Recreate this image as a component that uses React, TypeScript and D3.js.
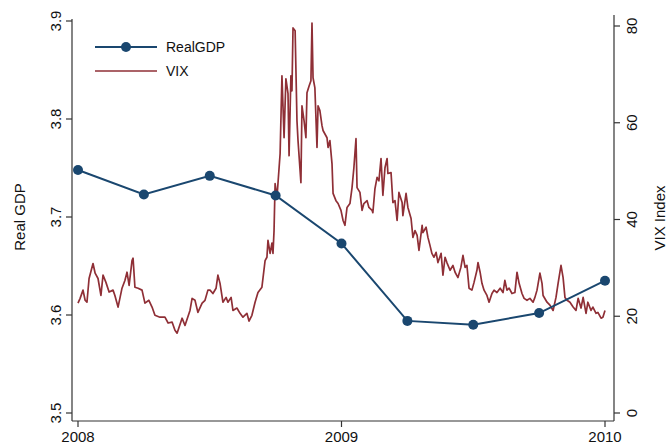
import React from "react";
import * as d3 from "d3";

// Quarterly real GDP (decimal year, value)
const gdpTime = [2008.0, 2008.25, 2008.5, 2008.75, 2009.0, 2009.25, 2009.5, 2009.75, 2010.0];
const gdpValues = [3.748, 3.723, 3.742, 3.722, 3.673, 3.594, 3.59, 3.602, 3.635];

// VIX readings (decimal year, index level)
const vixTime = [
  2008.0, 2008.008, 2008.019, 2008.027, 2008.034, 2008.042, 2008.057, 2008.065, 2008.076, 2008.087,
  2008.095, 2008.106, 2008.118, 2008.133, 2008.14, 2008.152, 2008.167, 2008.178, 2008.186, 2008.194,
  2008.205, 2008.209, 2008.216, 2008.228, 2008.243, 2008.254, 2008.269, 2008.281, 2008.292, 2008.311,
  2008.33, 2008.342, 2008.357, 2008.368, 2008.376, 2008.395, 2008.406, 2008.425, 2008.433, 2008.444,
  2008.455, 2008.471, 2008.482, 2008.493, 2008.501, 2008.512, 2008.524, 2008.531, 2008.539, 2008.55,
  2008.562, 2008.569, 2008.581, 2008.588, 2008.603, 2008.615, 2008.626, 2008.641, 2008.649, 2008.66,
  2008.672, 2008.683, 2008.698, 2008.71, 2008.717, 2008.721, 2008.729, 2008.736, 2008.74, 2008.744,
  2008.748, 2008.755, 2008.767, 2008.774, 2008.782, 2008.789, 2008.797, 2008.801, 2008.808, 2008.812,
  2008.816, 2008.824, 2008.831, 2008.835, 2008.846, 2008.85, 2008.858, 2008.865, 2008.869, 2008.877,
  2008.884, 2008.888, 2008.892, 2008.899, 2008.907, 2008.911, 2008.918, 2008.926, 2008.93, 2008.945,
  2008.949, 2008.956, 2008.964, 2008.968, 2008.979, 2008.987, 2008.998, 2009.006, 2009.013, 2009.021,
  2009.032, 2009.04, 2009.047, 2009.055, 2009.059, 2009.07, 2009.078, 2009.085, 2009.097, 2009.104,
  2009.116, 2009.119, 2009.127, 2009.135, 2009.142, 2009.15, 2009.157, 2009.165, 2009.173, 2009.176,
  2009.188, 2009.195, 2009.203, 2009.211, 2009.218, 2009.23, 2009.233, 2009.245, 2009.252, 2009.264,
  2009.271, 2009.279, 2009.287, 2009.294, 2009.306, 2009.309, 2009.321, 2009.328, 2009.336, 2009.343,
  2009.351, 2009.359, 2009.366, 2009.378, 2009.385, 2009.393, 2009.4, 2009.412, 2009.423, 2009.431,
  2009.442, 2009.453, 2009.461, 2009.469, 2009.476, 2009.484, 2009.495, 2009.503, 2009.514, 2009.518,
  2009.526, 2009.533, 2009.541, 2009.552, 2009.56, 2009.571, 2009.579, 2009.59, 2009.602, 2009.613,
  2009.62, 2009.628, 2009.636, 2009.647, 2009.658, 2009.666, 2009.674, 2009.685, 2009.693, 2009.704,
  2009.715, 2009.727, 2009.734, 2009.742, 2009.753, 2009.761, 2009.765, 2009.78, 2009.791, 2009.803,
  2009.814, 2009.822, 2009.833, 2009.841, 2009.848, 2009.856, 2009.867, 2009.879, 2009.89, 2009.898,
  2009.909, 2009.917, 2009.928, 2009.935, 2009.947, 2009.954, 2009.966, 2009.973, 2009.985, 2009.992,
  2010.0,
];
const vixValues = [
  22.7, 23.7, 25.4, 23.3, 22.9, 27.8, 30.9, 28.9, 27.8, 24.3,
  28.5, 27.0, 25.0, 25.4, 24.3, 21.9, 25.8, 27.4, 29.1, 26.4,
  31.5, 32.0, 26.0, 25.8, 25.4, 22.7, 23.3, 21.9, 20.2, 19.8,
  19.8, 18.6, 18.8, 17.1, 16.5, 19.6, 18.1, 21.2, 23.7, 23.3,
  20.8, 22.7, 23.3, 25.4, 25.4, 24.7, 25.8, 28.5, 26.8, 22.9,
  23.9, 22.9, 23.9, 21.2, 21.7, 20.6, 19.8, 20.6, 19.0, 20.2,
  22.9, 24.9, 26.0, 31.5, 32.2, 35.7, 33.0, 35.1, 33.0, 37.7,
  47.4, 44.5, 53.6, 69.7, 56.9, 69.1, 66.0, 53.2, 69.7, 66.6,
  79.6, 79.0, 60.4, 56.3, 47.6, 63.5, 60.4, 56.9, 66.2, 67.6,
  68.7, 80.6, 69.3, 67.2, 54.9, 63.5, 62.5, 59.4, 58.4, 56.9,
  54.9, 56.3, 51.5, 45.4, 43.9, 43.3, 41.9, 39.8, 38.8, 42.5,
  43.3, 46.6, 50.7, 56.7, 46.6, 45.6, 41.9, 43.3, 43.9, 42.5,
  41.9, 41.4, 46.4, 48.7, 48.0, 52.6, 45.0, 50.7, 52.6, 49.5,
  49.7, 43.5, 43.9, 39.8, 45.6, 43.5, 40.8, 45.4, 42.5, 40.2,
  36.3, 37.7, 36.7, 33.6, 38.8, 37.3, 38.4, 36.3, 34.6, 33.0,
  32.2, 33.2, 31.1, 33.0, 28.5, 32.2, 31.1, 29.5, 30.5, 29.1,
  28.0, 30.1, 32.6, 30.1, 30.5, 25.8, 25.4, 27.0, 29.5, 31.1,
  29.1, 26.8, 25.4, 24.3, 22.9, 24.7, 25.4, 24.9, 25.8, 24.9,
  27.4, 25.4, 25.8, 24.7, 24.9, 29.1, 26.8, 24.7, 23.7, 23.3,
  23.7, 22.9, 23.9, 25.4, 28.9, 26.8, 24.3, 22.9, 22.3, 21.2,
  23.9, 26.8, 30.5, 28.0, 23.9, 23.3, 22.9, 21.9, 21.2, 23.7,
  21.7, 23.9, 20.6, 22.9, 21.2, 21.9, 20.6, 20.8, 19.6, 19.8,
  21.2,
];

const xTickValues = [2008, 2009, 2010];
const xTickLabels = ["2008", "2009", "2010"];
const leftTicks = [3.5, 3.6, 3.7, 3.8, 3.9];
const leftTickLabels = ["3.5", "3.6", "3.7", "3.8", "3.9"];
const rightTicks = [0, 20, 40, 60, 80];
const rightTickLabels = ["0", "20", "40", "60", "80"];
const seriesNames = ["RealGDP", "VIX"];
const leftTitle = "Real GDP";
const rightTitle = "VIX Index";

const NAVY = "#1a476f";
const MAROON = "#8f2f36";
const AXIS = "#333";
const FONT = "Arial, 'Liberation Sans', Helvetica, sans-serif";

export default function App() {
  const W = 670;
  const H = 445;
  const axisLeft = 72;
  const axisRight = 614;
  const axisBottom = 421;

  const x = d3.scaleLinear().domain([2008, 2010]).range([78, 605]);
  const yL = d3.scaleLinear().domain([3.5, 3.9]).range([413, 21]);
  const yR = d3.scaleLinear().domain([0, 80]).range([413, 26]);

  const gdpData = gdpTime.map((t, i) => [t, gdpValues[i]] as [number, number]);
  const vixData = vixTime.map((t, i) => [t, vixValues[i]] as [number, number]);

  const gdpLine = d3
    .line<[number, number]>()
    .x((d) => x(d[0]))
    .y((d) => yL(d[1]));
  const vixLine = d3
    .line<[number, number]>()
    .x((d) => x(d[0]))
    .y((d) => yR(d[1]));

  const fs = 15;

  return (
    <svg
      width={W}
      height={H}
      style={{ position: "absolute", left: 0, top: 0, background: "#fff" }}
      fontFamily={FONT}
    >
      <rect x={0} y={0} width={W} height={H} fill="#fff" />

      {/* VIX line */}
      <path d={vixLine(vixData) || ""} fill="none" stroke={MAROON} strokeWidth={1.7} strokeLinejoin="round" />

      {/* GDP line */}
      <path d={gdpLine(gdpData) || ""} fill="none" stroke={NAVY} strokeWidth={2} />
      {gdpData.map((d, i) => (
        <circle key={i} cx={x(d[0])} cy={yL(d[1])} r={5} fill={NAVY} />
      ))}

      {/* Axes lines */}
      <line x1={axisLeft} x2={axisLeft} y1={19} y2={axisBottom} stroke={AXIS} strokeWidth={1.2} />
      <line x1={axisRight} x2={axisRight} y1={15} y2={axisBottom} stroke={AXIS} strokeWidth={1.2} />
      <line x1={axisLeft} x2={axisRight} y1={axisBottom} y2={axisBottom} stroke={AXIS} strokeWidth={1.2} />

      {/* Left ticks */}
      {leftTicks.map((v, i) => (
        <g key={"l" + i}>
          <line x1={axisLeft - 6} x2={axisLeft} y1={yL(v)} y2={yL(v)} stroke={AXIS} strokeWidth={1.2} />
          <text
            x={61}
            y={yL(v)}
            fontSize={fs}
            textAnchor="middle"
            transform={`rotate(-90, 61, ${yL(v)})`}
            fill="#111"
          >
            {leftTickLabels[i]}
          </text>
        </g>
      ))}

      {/* Right ticks */}
      {rightTicks.map((v, i) => (
        <g key={"r" + i}>
          <line x1={axisRight} x2={axisRight + 6} y1={yR(v)} y2={yR(v)} stroke={AXIS} strokeWidth={1.2} />
          <text
            x={637}
            y={yR(v)}
            fontSize={fs}
            textAnchor="middle"
            transform={`rotate(-90, 637, ${yR(v)})`}
            fill="#111"
          >
            {rightTickLabels[i]}
          </text>
        </g>
      ))}

      {/* Bottom ticks */}
      {xTickValues.map((v, i) => (
        <g key={"b" + i}>
          <line x1={x(v)} x2={x(v)} y1={axisBottom} y2={axisBottom + 6} stroke={AXIS} strokeWidth={1.2} />
          <text x={x(v)} y={442} fontSize={fs} textAnchor="middle" fill="#111">
            {xTickLabels[i]}
          </text>
        </g>
      ))}

      {/* Axis titles */}
      <text x={25} y={217} fontSize={fs} textAnchor="middle" transform="rotate(-90, 25, 217)" fill="#111">
        {leftTitle}
      </text>
      <text x={665} y={218} fontSize={fs} textAnchor="middle" transform="rotate(-90, 665, 218)" fill="#111">
        {rightTitle}
      </text>

      {/* Legend */}
      <line x1={95} x2={157} y1={47} y2={47} stroke={NAVY} strokeWidth={2} />
      <circle cx={126} cy={47} r={5} fill={NAVY} />
      <text x={166} y={52} fontSize={14} fill="#111">
        {seriesNames[0]}
      </text>
      <line x1={95} x2={157} y1={71} y2={71} stroke={MAROON} strokeWidth={1.7} />
      <text x={166} y={76} fontSize={14} fill="#111">
        {seriesNames[1]}
      </text>
    </svg>
  );
}
